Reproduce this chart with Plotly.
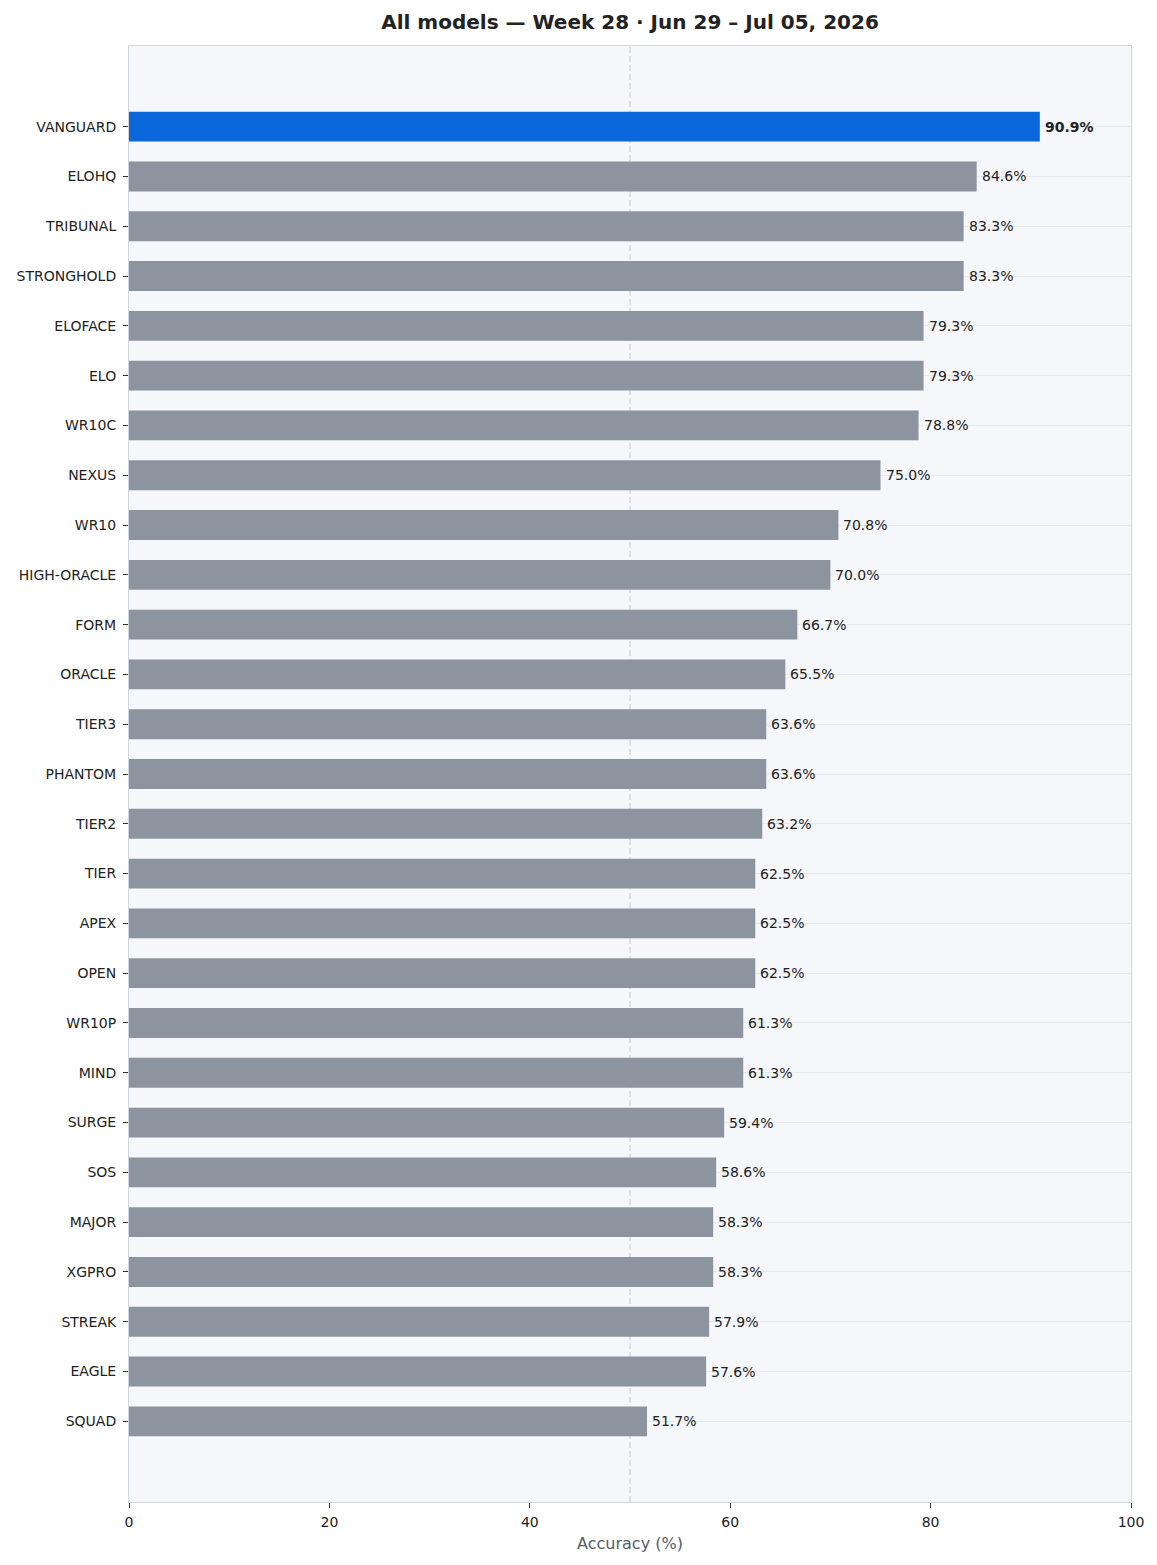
import plotly.graph_objects as go

models = ["VANGUARD", "ELOHQ", "TRIBUNAL", "STRONGHOLD", "ELOFACE", "ELO", "WR10C", "NEXUS",
          "WR10", "HIGH-ORACLE", "FORM", "ORACLE", "TIER3", "PHANTOM", "TIER2", "TIER", "APEX",
          "OPEN", "WR10P", "MIND", "SURGE", "SOS", "MAJOR", "XGPRO", "STREAK", "EAGLE", "SQUAD"]
accuracy = [90.9, 84.6, 83.3, 83.3, 79.3, 79.3, 78.8, 75.0, 70.8, 70.0, 66.7, 65.5, 63.6, 63.6,
            63.2, 62.5, 62.5, 62.5, 61.3, 61.3, 59.4, 58.6, 58.3, 58.3, 57.9, 57.6, 51.7]
x_ticks = [0, 20, 40, 60, 80, 100]

colors = ["#0A67DC" if i == 0 else "#8C949F" for i in range(len(models))]
labels = [(f"<b>{v:.1f}%</b>" if i == 0 else f"{v:.1f}%") for i, v in enumerate(accuracy)]

W, H = 1149, 1557  # page body adds an 8px offset

fig = go.Figure(go.Bar(
    y=models, x=accuracy, orientation="h",
    marker=dict(color=colors, line=dict(width=0)),
    width=0.6,
    hoverinfo="skip",
))

for m, v, t in zip(models, accuracy, labels):
    fig.add_annotation(x=v, y=m, text=t, showarrow=False, xanchor="left", xshift=3,
                       font=dict(family="DejaVu Sans", size=14, color="#222"))

n = len(models)
fig.add_shape(type="line", x0=50, x1=50, y0=0, y1=1, xref="x", yref="paper",
              line=dict(color="#D3D9E0", width=1.5, dash="6px,3px"), layer="below")

fig.update_layout(
    width=W, height=H,
    margin=dict(l=121, r=26, t=38, b=63),
    paper_bgcolor="white", plot_bgcolor="#F5F7FA",
    font=dict(family="DejaVu Sans", size=14, color="#222"),
    title=dict(text="<b>All models — Week 28 · Jun 29 – Jul 05, 2026</b>",
               xref="paper", x=0.5, xanchor="center",
               yref="container", y=1 - 14 / H, yanchor="middle",
               font=dict(size=20, color="#222")),
    showlegend=False,
)
fig.update_xaxes(range=[0, 100], tickvals=x_ticks, showgrid=False, zeroline=False,
                 automargin=False,
                 ticks="outside", ticklen=5, tickcolor="#333", ticklabelstandoff=2,
                 showline=True, linecolor="#D0D6DE", linewidth=1, mirror=True,
                 tickfont=dict(size=14, color="#222"),
                 title=dict(text="Accuracy (%)", font=dict(size=16, color="#555C66"), standoff=9))
fig.update_yaxes(type="category", categoryorder="array", categoryarray=models,
                 range=[n - 1 + 1.62, -1.62], automargin=False,
                 showgrid=True, gridcolor="#E6EAEF", gridwidth=1,
                 ticks="outside", ticklen=5, tickcolor="#333", ticklabelstandoff=4,
                 showline=True, linecolor="#D0D6DE", linewidth=1, mirror=True,
                 tickfont=dict(size=14, color="#222"))

fig.write_html("out.html")
